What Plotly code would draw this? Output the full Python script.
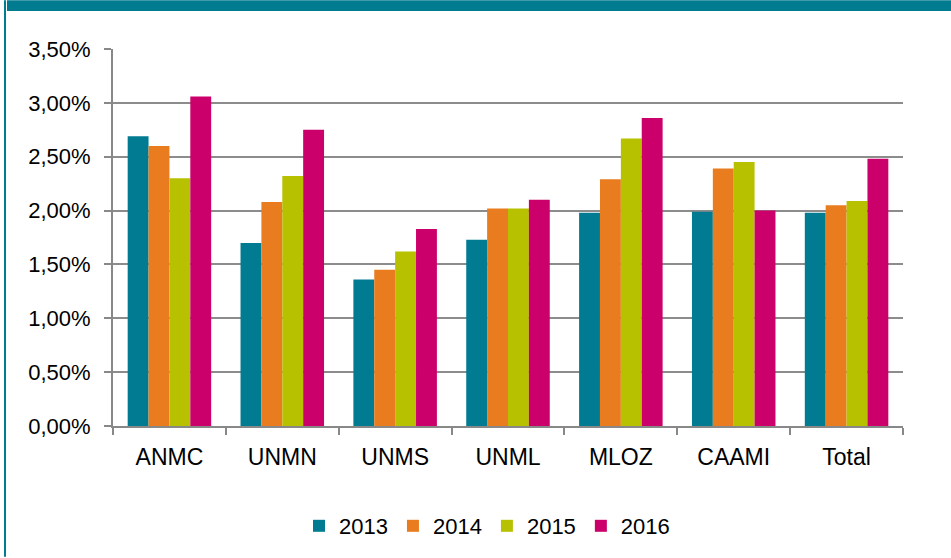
import plotly.graph_objects as go

categories = ["ANMC", "UNMN", "UNMS", "UNML", "MLOZ", "CAAMI", "Total"]
years = ["2013", "2014", "2015", "2016"]
v2013 = [0.0269, 0.0170, 0.0136, 0.0173, 0.0198, 0.0199, 0.0198]
v2014 = [0.0260, 0.0208, 0.0145, 0.0202, 0.0229, 0.0239, 0.0205]
v2015 = [0.0230, 0.0232, 0.0162, 0.0202, 0.0267, 0.0245, 0.0209]
v2016 = [0.0306, 0.0275, 0.0183, 0.0210, 0.0286, 0.0200, 0.0248]
colors = ["#007B91", "#E87C1E", "#B8C100", "#CC006A"]

series = [v2013, v2014, v2015, v2016]

fig = go.Figure()
for name, vals, col in zip(years, series, colors):
    fig.add_trace(go.Bar(x=categories, y=vals, name=name, marker_color=col,
                         marker_line_width=0))

W, H = 951, 558
L, R, T, B = 113, 903, 49, 427
pw, ph = R - L, B - T

def px(x):
    return (x - L) / pw

def py(y):
    return (B - y) / ph

band = "#007B8F"
fig.add_shape(type="rect", xref="paper", yref="paper", x0=px(7), x1=px(951),
              y0=py(11), y1=py(0), fillcolor=band, line_width=0, layer="above")
fig.add_shape(type="line", xref="paper", yref="paper", x0=px(5), x1=px(5),
              y0=py(558), y1=py(0), line=dict(color=band, width=2))

fig.update_layout(
    width=W, height=H,
    margin=dict(l=L, r=W - R, t=T, b=H - B, pad=0),
    paper_bgcolor="white", plot_bgcolor="white",
    separators=", ",
    bargap=0.26, bargroupgap=0,
    font=dict(family="Liberation Sans, Arial, sans-serif", size=22, color="#000000"),
    legend=dict(orientation="h", x=px(487), xanchor="center", y=py(526), yanchor="middle",
                font=dict(size=22), itemwidth=30, traceorder="normal"),
    xaxis=dict(showline=True, linecolor="#888888", linewidth=2, ticks="outside",
               tickson="boundaries", ticklen=7, tickcolor="#888888", tickwidth=2,
               showgrid=False, tickfont=dict(size=23), ticklabelstandoff=9),
    yaxis=dict(range=[0, 0.035], dtick=0.005, tickformat=".2%", showline=True,
               linecolor="#888888", linewidth=2, ticks="outside", ticklen=7,
               tickcolor="#888888", tickwidth=2, gridcolor="#8C8C8C", gridwidth=1.5,
               zeroline=False, tickfont=dict(size=22), ticklabelstandoff=9),
)

fig.write_html("out.html", config={"displayModeBar": False},
               post_script="document.body.style.margin='0';document.body.style.overflow='hidden';")
